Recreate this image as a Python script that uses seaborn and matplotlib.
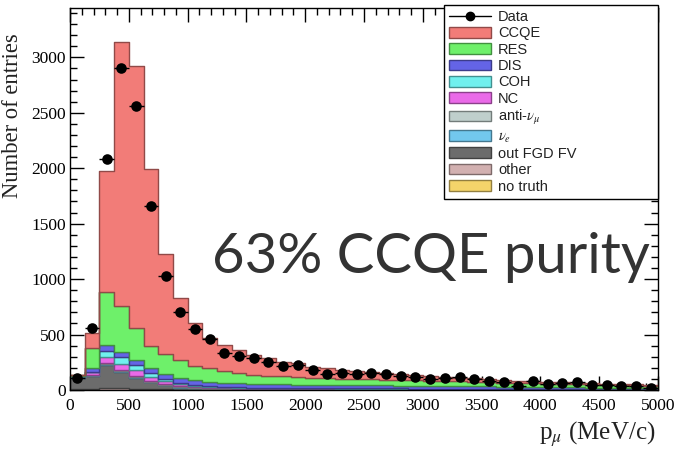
import numpy as np
import pandas as pd
import matplotlib
matplotlib.use("Agg")
import matplotlib.pyplot as plt
import matplotlib.colors as mcolors
from matplotlib.lines import Line2D
from matplotlib.patches import Patch
from matplotlib.ticker import MultipleLocator
import seaborn as sns

# ---------------- data ----------------
bin_width = 125
n_bins = 40
bin_centers = [bin_width * (i + 0.5) for i in range(n_bins)]

components = ["CCQE", "RES", "DIS", "COH", "NC", "anti-numu", "nue",
              "out FGD FV", "other", "no truth"]
legend_labels = ["CCQE", "RES", "DIS", "COH", "NC", r"anti-$\nu_{\mu}$",
                 r"$\nu_{e}$", "out FGD FV", "other", "no truth"]

ccqe = [3, 129, 1091, 2384, 2363, 1593, 901, 563, 385, 271,
        232, 210, 180, 157, 133, 124, 100, 89, 78, 72,
        65, 58, 51, 46, 42, 38, 33, 30, 27, 24,
        22, 20, 19, 17, 16, 15, 14, 13, 12, 11]
res = [4, 187, 481, 411, 292, 202, 184, 159, 126, 120,
       108, 90, 81, 76, 72, 68, 64, 61, 58, 55,
       53, 51, 49, 47, 45, 43, 42, 40, 38, 36,
       34, 32, 30, 28, 26, 25, 23, 21, 19, 17]
dis = [5, 29, 54, 50, 46, 46, 42, 45, 43, 38,
       35, 35, 32, 32, 31, 31, 29, 29, 29, 28,
       27, 26, 25, 26, 26, 25, 24, 23, 21, 21,
       20, 19, 17, 16, 15, 13, 12, 11, 11, 10]
coh = [4, 6, 55, 58, 46, 30, 20, 15, 10, 7,
       5, 4, 3, 3, 3, 2, 2, 2, 2, 2,
       2, 2, 2, 1, 1, 1, 1, 1, 1, 1,
       1, 1, 1, 1, 1, 1, 1, 1, 1, 1]
nc = [8, 22, 53, 54, 48, 35, 25, 18, 14, 12,
      10, 9, 8, 7, 7, 6, 6, 6, 5, 5,
      5, 5, 5, 4, 4, 4, 4, 4, 4, 3,
      3, 3, 3, 3, 3, 3, 3, 3, 2, 2]
antinu = [3, 5, 10, 12, 12, 10, 8, 7, 6, 5,
          5, 4, 4, 4, 3, 3, 3, 3, 3, 3,
          3, 3, 3, 3, 2, 2, 2, 2, 2, 2,
          2, 2, 2, 2, 2, 2, 2, 2, 2, 2]
nue = [2, 3, 6, 6, 6, 5, 5, 4, 3, 3,
       3, 3, 2, 2, 2, 2, 2, 2, 2, 2,
       2, 2, 2, 2, 2, 2, 2, 2, 2, 2,
       1, 1, 1, 1, 1, 1, 1, 1, 1, 1]
outfv = [100, 120, 212, 152, 100, 60, 34, 18, 11, 7,
         6, 4, 4, 3, 3, 3, 3, 2, 2, 2,
         2, 2, 2, 2, 2, 2, 1, 1, 1, 1,
         1, 1, 1, 1, 1, 1, 1, 1, 1, 1]
other = [6, 8, 12, 10, 9, 7, 5, 3, 2, 2,
         1, 1, 1, 1, 1, 1, 1, 1, 1, 1,
         1, 1, 1, 1, 1, 1, 1, 1, 1, 1,
         1, 1, 1, 1, 1, 1, 1, 1, 1, 1]
notruth = [2, 2, 4, 4, 3, 2, 2, 1, 1, 1,
           1, 0, 0, 0, 0, 0, 0, 0, 0, 0,
           0, 0, 0, 0, 0, 0, 0, 0, 0, 0,
           0, 0, 0, 0, 0, 0, 0, 0, 0, 0]

data_counts = [112, 556, 2085, 2905, 2565, 1660, 1025, 700, 550, 457,
               337, 310, 288, 252, 217, 224, 180, 144, 154, 141,
               154, 141, 127, 120, 97, 107, 114, 99, 84, 69,
               39, 81, 55, 66, 69, 45, 45, 38, 38, 21]

colors = {
    "CCQE": "#f27c78",
    "RES": "#6ef06a",
    "DIS": "#6464e6",
    "COH": "#70f0ee",
    "NC": "#ea6ae8",
    "anti-numu": "#bfcfcc",
    "nue": "#72c8ee",
    "out FGD FV": "#6c6c6c",
    "other": "#d2b0b0",
    "no truth": "#f4d46a",
}

series = {"CCQE": ccqe, "RES": res, "DIS": dis, "COH": coh, "NC": nc,
          "anti-numu": antinu, "nue": nue, "out FGD FV": outfv,
          "other": other, "no truth": notruth}

rows = []
for comp in components:
    for xc, w in zip(bin_centers, series[comp]):
        rows.append({"p": xc, "w": float(w), "comp": comp})
df = pd.DataFrame(rows)

# ---------------- plot ----------------
sns.set_theme(style="white")
plt.rcParams["font.family"] = ["Liberation Serif", "DejaVu Serif"]
plt.rcParams["mathtext.fontset"] = "stix"

fig = plt.figure(figsize=(6.84, 4.55), dpi=100)
ax = fig.add_axes([70 / 684, 1 - 390 / 455, 588 / 684, 382 / 455])

edges = [float(bin_width * i) for i in range(n_bins + 1)]
# seaborn puts the last hue level at the bottom of the stack
sns.histplot(data=df, x="p", weights="w", hue="comp",
             hue_order=components, palette=colors,
             bins=edges, multiple="stack", element="step", fill=True,
             alpha=1, linewidth=1.0, legend=False, ax=ax)

# darker outline per layer
for coll in ax.collections:
    fc = coll.get_facecolor()
    if len(fc):
        rgb = np.array(fc[0][:3]) * 0.6
        coll.set_edgecolor(list(rgb) + [1])
        coll.set_linewidth(1.0)

# data points
ax.errorbar(bin_centers, data_counts, xerr=bin_width / 2, fmt="none",
            ecolor="black", elinewidth=1.0, capsize=0, zorder=5)
sns.scatterplot(x=bin_centers, y=data_counts, color="black", s=58,
                marker="o", edgecolor="black", linewidth=0, zorder=6, ax=ax)

ax.set_xlim(0, 5000)
ax.set_ylim(0, 3445)
ax.set_xlabel("")
ax.set_ylabel("")

ax.xaxis.set_major_locator(MultipleLocator(500))
ax.xaxis.set_minor_locator(MultipleLocator(100))
ax.yaxis.set_major_locator(MultipleLocator(500))
ax.yaxis.set_minor_locator(MultipleLocator(100))
ax.tick_params(which="both", direction="in", top=True, right=True,
               bottom=True, left=True, colors="black", labelsize=12.5)
ax.tick_params(which="major", length=10, width=1)
ax.tick_params(which="minor", length=5, width=1)
ax.tick_params(axis="x", pad=6)
ax.tick_params(axis="y", pad=3)
for sp in ax.spines.values():
    sp.set_color("black")
    sp.set_linewidth(1.0)

fig.text(655 / 684, 1 - 440 / 455, r"p$_{\mu}$ (MeV/c)", ha="right",
         va="baseline", fontsize=18, color="#222222")
fig.text(23 / 684, 1 - 198 / 455, "Number of entries", rotation=90,
         ha="right", va="bottom", fontsize=16.3, color="#222222")

# legend
handles = [Line2D([0], [0], color="black", marker="o", markersize=6,
                  linewidth=1.0)]
for comp in components:
    c = np.array(mcolors.to_rgb(colors[comp]))
    handles.append(Patch(facecolor=colors[comp], edgecolor=c * 0.6,
                         linewidth=1.0))
labels = ["Data"] + legend_labels
x0 = (444 - 70) / 588
leg = ax.legend(handles, labels, loc="upper left",
                bbox_to_anchor=(x0, 0.5, 1.0 - x0, 0.5 + 3 / 382),
                mode="expand", borderaxespad=0,
                frameon=True, fancybox=False, edgecolor="black",
                framealpha=1, handlelength=2.9, handleheight=0.75,
                labelspacing=0.16, handletextpad=0.45, borderpad=0.35,
                prop={"family": "Liberation Sans", "size": 10.5})
leg.get_frame().set_linewidth(1.0)
for t in leg.get_texts():
    t.set_color("#222222")

fig.text(212 / 684, 1 - 273 / 455, "63% CCQE purity", family="Lato",
         fontsize=40.5, color="#333333", ha="left", va="baseline")

fig.savefig("out.png", dpi=100)
